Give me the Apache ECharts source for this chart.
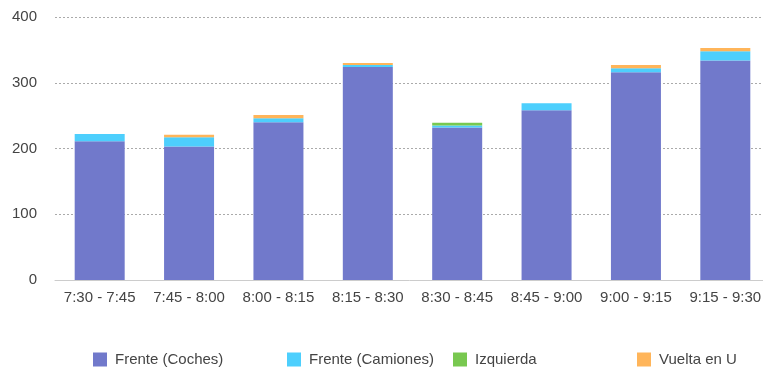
<!DOCTYPE html>
<html>
<head>
<meta charset="utf-8">
<script src="https://cdn.jsdelivr.net/npm/echarts@6/dist/echarts.min.js"></script>
<style>
html,body{margin:0;padding:0;background:#fff;}
#c{width:763px;height:368px;}
</style>
</head>
<body>
<div id="c"></div>
<script>
const categories = ['7:30 - 7:45','7:45 - 8:00','8:00 - 8:15','8:15 - 8:30','8:30 - 8:45','8:45 - 9:00','9:00 - 9:15','9:15 - 9:30'];
const seriesNames = ['Frente (Coches)','Frente (Camiones)','Izquierda','Vuelta en U'];
const coches   = [211, 203, 240, 324, 232, 258, 316, 334];
const camiones = [11, 14, 6, 3, 3, 11, 6, 14];
const izquierda = [0, 0, 0, 0, 4, 0, 0, 0];
const vueltaU  = [0, 4, 5, 3, 0, 0, 5, 5];
const yTicks = [0, 100, 200, 300, 400];

const colors = ['#7179cb','#4dcffd','#78c850','#ffb55a'];
const values = [coches, camiones, izquierda, vueltaU];
const font = 'Liberation Sans, Arial, sans-serif';
const legendLeft = [88, 282, 448, 632];

const chart = echarts.init(document.getElementById('c'), null, {renderer:'canvas'});
chart.setOption({
  animation: false,
  color: colors,
  textStyle: {fontFamily: font},
  grid: {left: 55, width: 715, top: 17, bottom: 88, containLabel: false, outerBoundsMode: 'none'},
  legend: seriesNames.map((n, i) => ({
    data: [n], left: legendLeft[i], top: 347, itemWidth: 14, itemHeight: 14,
    icon: 'rect', itemGap: 0,
    textStyle: {fontSize: 15, color: '#444', fontFamily: font, padding: [0,0,0,3]}
  })),
  xAxis: {
    type: 'category', data: categories,
    axisTick: {show: false},
    axisLine: {lineStyle: {color: '#cccccc', width: 1}},
    axisLabel: {fontSize: 15, color: '#444', margin: 10, interval: 0}
  },
  yAxis: {
    type: 'value', min: yTicks[0], max: yTicks[yTicks.length-1], interval: 100,
    axisLine: {show: false}, axisTick: {show: false},
    axisLabel: {fontSize: 15, color: '#444', margin: 18, padding: [5,0,0,0]},
    splitLine: {lineStyle: {color: '#aaaaaa', type: [2, 2], width: 1}}
  },
  series: seriesNames.map((n, i) => ({
    name: n, type: 'bar', stack: 'total', data: values[i], barWidth: 50,
    itemStyle: {color: colors[i]}
  }))
});
</script>
</body>
</html>
